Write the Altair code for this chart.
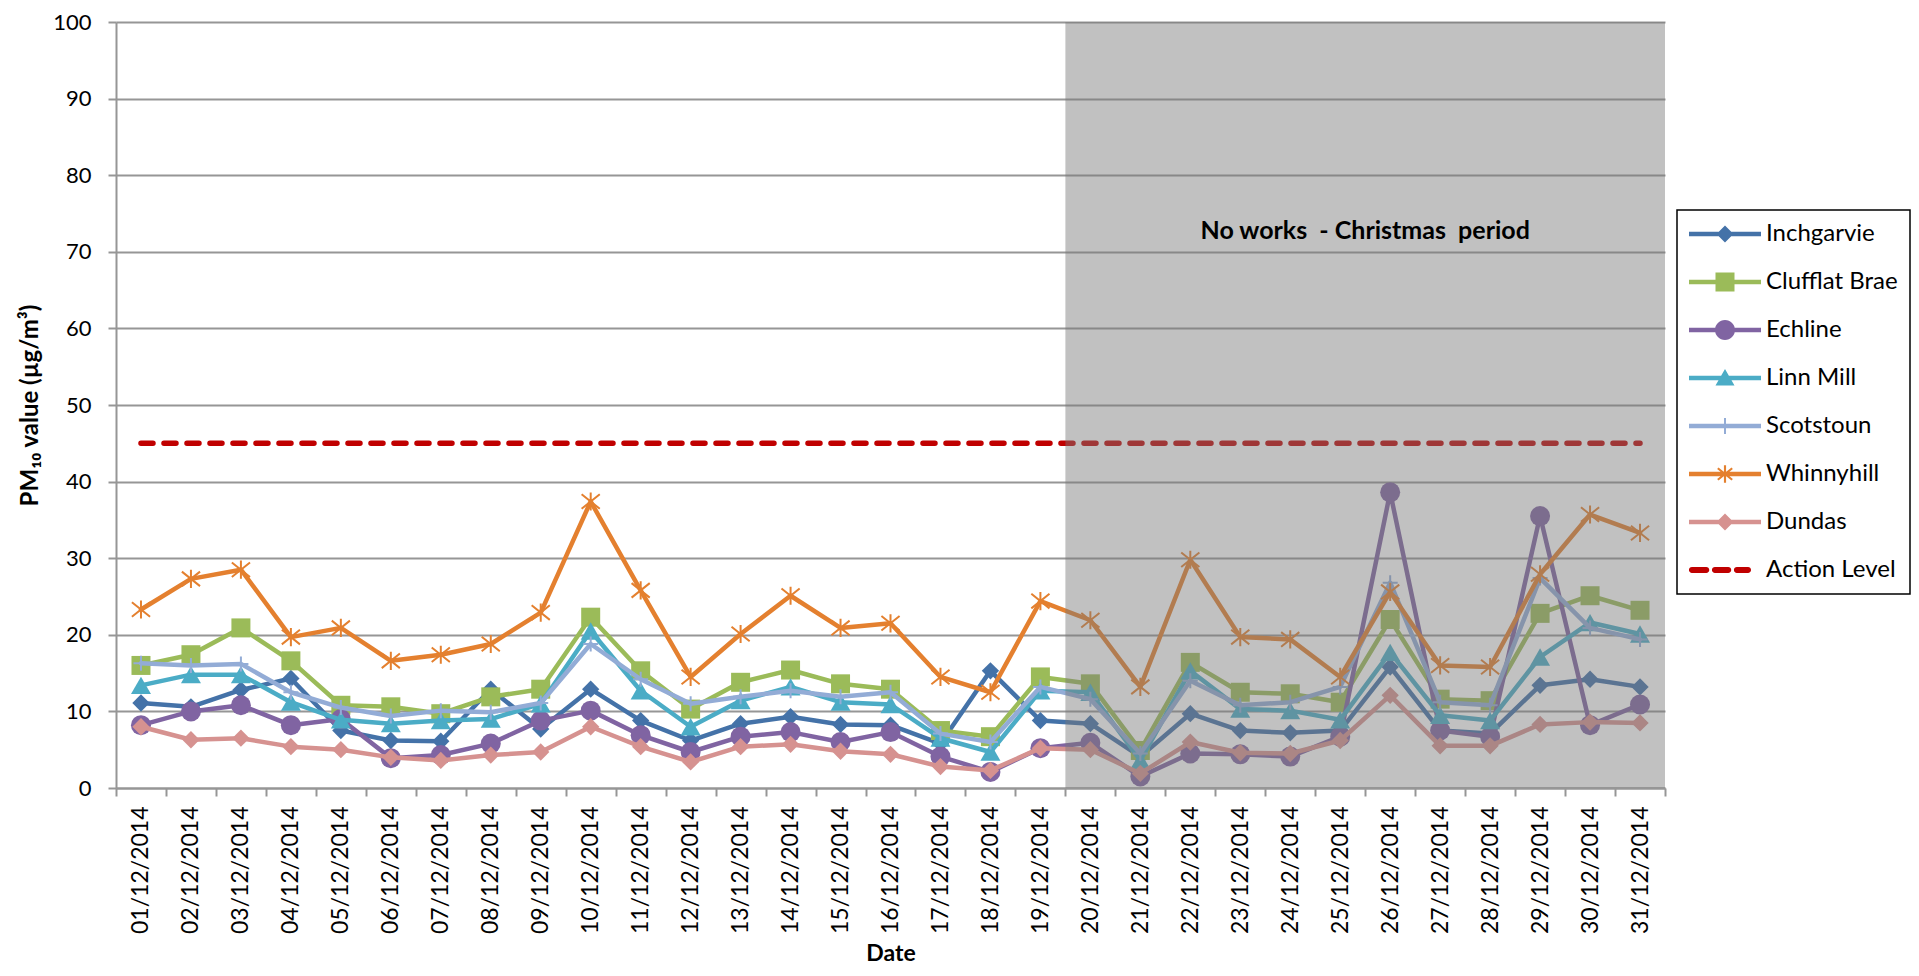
import altair as alt
import pandas as pd

# ---------------- data ----------------
dates = [f"{d:02d}/12/2014" for d in range(1, 32)]

inchgarvie = [11.1, 10.6, 12.8, 14.3, 7.5, 6.2, 6.1, 12.9, 7.7, 12.9, 8.8, 6.2, 8.4, 9.3, 8.3, 8.2,
              5.8, 15.3, 8.8, 8.4, 4.1, 9.7, 7.5, 7.2, 7.5, 15.8, 7.5, 7.1, 13.4, 14.2, 13.2]
clufflat_brae = [16.0, 17.4, 20.9, 16.6, 10.8, 10.6, 9.7, 11.9, 12.9, 22.3, 15.3, 10.3, 13.8, 15.4, 13.6, 12.9,
                 7.5, 6.7, 14.5, 13.6, 4.9, 16.4, 12.5, 12.3, 11.2, 22.0, 11.6, 11.4, 22.8, 25.1, 23.2]
echline = [8.2, 10.0, 10.8, 8.2, 9.0, 3.9, 4.3, 5.8, 8.8, 10.1, 6.9, 4.7, 6.7, 7.3, 6.0, 7.3,
           4.1, 2.1, 5.2, 5.9, 1.5, 4.5, 4.4, 4.1, 6.7, 38.6, 7.5, 6.7, 35.5, 8.2, 10.9]
linn_mill = [13.4, 14.8, 14.8, 11.2, 8.9, 8.4, 8.8, 9.0, 11.0, 20.5, 12.7, 8.0, 11.4, 13.2, 11.2, 10.9,
             6.5, 4.7, 12.7, 12.5, 3.6, 15.3, 10.3, 10.1, 8.9, 17.7, 9.5, 8.8, 17.1, 21.6, 20.1]
scotstoun = [16.3, 16.0, 16.2, 12.5, 10.5, 9.4, 10.1, 9.9, 11.1, 18.8, 14.2, 11.0, 11.9, 12.7, 11.9, 12.5,
             7.1, 6.0, 13.2, 11.6, 4.5, 14.0, 10.8, 11.2, 13.2, 26.8, 11.2, 10.8, 27.4, 20.9, 19.4]
whinnyhill = [23.3, 27.3, 28.5, 19.7, 20.9, 16.6, 17.4, 18.8, 22.9, 37.4, 25.8, 14.5, 20.1, 25.1, 20.9, 21.5,
              14.5, 12.5, 24.4, 21.9, 13.2, 29.8, 19.7, 19.4, 14.5, 25.6, 16.0, 15.8, 27.9, 35.7, 33.3]
dundas = [8.0, 6.3, 6.5, 5.4, 5.0, 4.0, 3.6, 4.3, 4.7, 8.0, 5.4, 3.4, 5.4, 5.7, 4.8, 4.4,
          2.8, 2.3, 5.2, 5.0, 1.9, 6.0, 4.6, 4.5, 6.2, 12.1, 5.5, 5.5, 8.3, 8.6, 8.5]
action_level = 45

series_names = ["Inchgarvie", "Clufflat Brae", "Echline", "Linn Mill", "Scotstoun",
                "Whinnyhill", "Dundas", "Action Level"]
series_values = [inchgarvie, clufflat_brae, echline, linn_mill, scotstoun, whinnyhill, dundas]
colors = ["#4472A8", "#9BBB59", "#8064A2", "#4BACC6", "#93ACD6", "#E4802F", "#D69290", "#C00000"]

christmas_start = "20/12/2014"
christmas_end = "31/12/2014"
annotation_text = "No works\u00a0 - Christmas\u00a0 period"
annotation_date = "26/12/2014"
annotation_value = 72.7

# ---------------- tables ----------------
rows = []
for name, vals in zip(series_names, series_values):
    for d, v in zip(dates, vals):
        rows.append({"date": d, "series": name, "value": v})
df = pd.DataFrame(rows)
df_action = pd.DataFrame({"date": dates, "series": "Action Level", "value": action_level})
df_period = pd.DataFrame({"start": [christmas_start], "end": [christmas_end], "lo": [0], "hi": [100]})
df_note = pd.DataFrame({"date": [annotation_date], "value": [annotation_value], "text": [annotation_text]})

FONT = "Lato"
GRID = "#969696"

x_scale = alt.Scale(type="band", domain=dates, paddingInner=0, paddingOuter=0)
y_scale = alt.Scale(domain=[0, 100], nice=False)

X = alt.X("date:N", scale=x_scale, sort=dates,
          axis=alt.Axis(title="Date", labelAngle=-90, tickBand="extent", labelPadding=10,
                        tickSize=8, titlePadding=9, titleFontSize=23, grid=False))
Y = alt.Y("value:Q", scale=y_scale,
          axis=alt.Axis(title="PM₁₀ value (µg/m³)", values=list(range(0, 101, 10)),
                        tickSize=8, labelPadding=17, labelFontSize=22, titlePadding=10, grid=True))

# marker styles in the plot
plot_markers = {
    "Inchgarvie": dict(shape="diamond", size=300, filled=True, strokeWidth=0),
    "Clufflat Brae": dict(shape="square", size=361, filled=True, strokeWidth=0),
    "Echline": dict(shape="circle", size=400, filled=True, strokeWidth=0),
    "Linn Mill": dict(shape="triangle-up", size=400, filled=True, strokeWidth=0),
    "Scotstoun": dict(shape="M0,-1V1M-1,0H1", size=225, filled=False, strokeWidth=2),
    "Whinnyhill": dict(shape="M0,-1V1M-1,-0.8L1,0.8M-1,0.8L1,-0.8", size=330, filled=False, strokeWidth=2),
    "Dundas": dict(shape="diamond", size=300, filled=True, strokeWidth=0),
}

# legend symbols: line + marker drawn as filled shapes (unit = 36 px)
LINE = "M-1,-0.06H1V0.06H-1Z"
legend_paths = [
    LINE + "M0,-0.236L0.236,0L0,0.236L-0.236,0Z",
    LINE + "M-0.264,-0.264H0.264V0.264H-0.264Z",
    LINE + "M-0.278,0A0.278,0.278 0 1,1 0.278,0A0.278,0.278 0 1,1 -0.278,0Z",
    LINE + "M0,-0.25L0.264,0.21H-0.264Z",
    LINE + "M-0.028,-0.22H0.028V0.22H-0.028Z",
    LINE + "M-0.03,-0.24H0.03V0.24H-0.03Z"
         + "M-0.219,-0.137L-0.181,-0.183L0.219,0.137L0.181,0.183Z"
         + "M-0.219,0.137L0.181,-0.183L0.219,-0.137L-0.181,0.183Z",
    LINE + "M0,-0.236L0.236,0L0,0.236L-0.236,0Z",
    "M-0.92,-0.083H-0.52A0.083,0.083 0 0,1 -0.52,0.083H-0.92A0.083,0.083 0 0,1 -0.92,-0.083Z"
    "M-0.28,-0.083H0.09A0.083,0.083 0 0,1 0.09,0.083H-0.28A0.083,0.083 0 0,1 -0.28,-0.083Z"
    "M0.33,-0.083H0.64A0.083,0.083 0 0,1 0.64,0.083H0.33A0.083,0.083 0 0,1 0.33,-0.083Z",
]

layers = []
for name, color in zip(series_names[:-1], colors[:-1]):
    sub = alt.Chart(df).transform_filter(alt.datum.series == name)
    layers.append(sub.mark_line(color=color, strokeWidth=4.5, strokeJoin="round", strokeCap="round")
                  .encode(x=X, y=Y))
    m = plot_markers[name]
    layers.append(sub.mark_point(shape=m["shape"], size=m["size"], filled=m["filled"],
                                 color=color, opacity=1, strokeWidth=m["strokeWidth"])
                  .encode(x=X, y=Y))

action = alt.Chart(df_action).mark_line(color=colors[-1], strokeWidth=5.5, strokeDash=[12, 11],
                                        strokeCap="round").encode(x=X, y=Y)
layers.append(action)

period = alt.Chart(df_period).mark_rect(color="#777777", opacity=0.46).encode(
    x=alt.X("start:N", scale=x_scale, bandPosition=0),
    x2=alt.X2("end:N", bandPosition=1),
    y=alt.Y("lo:Q", scale=y_scale),
    y2="hi:Q",
)
layers.append(period)

note = alt.Chart(df_note).mark_text(font=FONT, fontSize=25, fontWeight="bold", color="black",
                                    align="center", baseline="middle").encode(
    x=alt.X("date:N", scale=x_scale, bandPosition=0),
    y=alt.Y("value:Q", scale=y_scale),
    text="text:N",
)
layers.append(note)

legend = alt.Legend(orient="none", legendX=1561, legendY=188, title=None,
                    strokeColor="black", fillColor="white", padding=12,
                    labelFont=FONT, labelFontSize=24, labelColor="black", labelOffset=5,
                    symbolSize=5184, symbolStrokeWidth=0, symbolOpacity=1,
                    clipHeight=24, rowPadding=24, labelLimit=300)
carrier = alt.Chart(df).transform_filter("false").mark_point(filled=True, opacity=1).encode(
    x=X, y=Y,
    color=alt.Color("series:N", scale=alt.Scale(domain=series_names, range=colors), legend=legend),
    shape=alt.Shape("series:N", scale=alt.Scale(domain=series_names, range=legend_paths), legend=legend),
)
layers.append(carrier)

chart = alt.layer(*layers).properties(
    width=1549, height=766,
    autosize=alt.AutoSizeParams(type="none"),
    padding={"left": 108, "top": 14, "right": 246, "bottom": 180},
    background="white",
).configure_view(stroke=None).configure_axis(
    labelFont=FONT, labelFontSize=23, labelColor="black",
    titleFont=FONT, titleFontSize=24, titleFontWeight="bold", titleColor="black",
    domainColor=GRID, domainWidth=2, tickColor=GRID, tickWidth=2,
    gridColor=GRID, gridWidth=2,
).configure_legend(strokeWidth=1.5)

chart.save("out.html", embed_options={"renderer": "svg", "actions": False})
